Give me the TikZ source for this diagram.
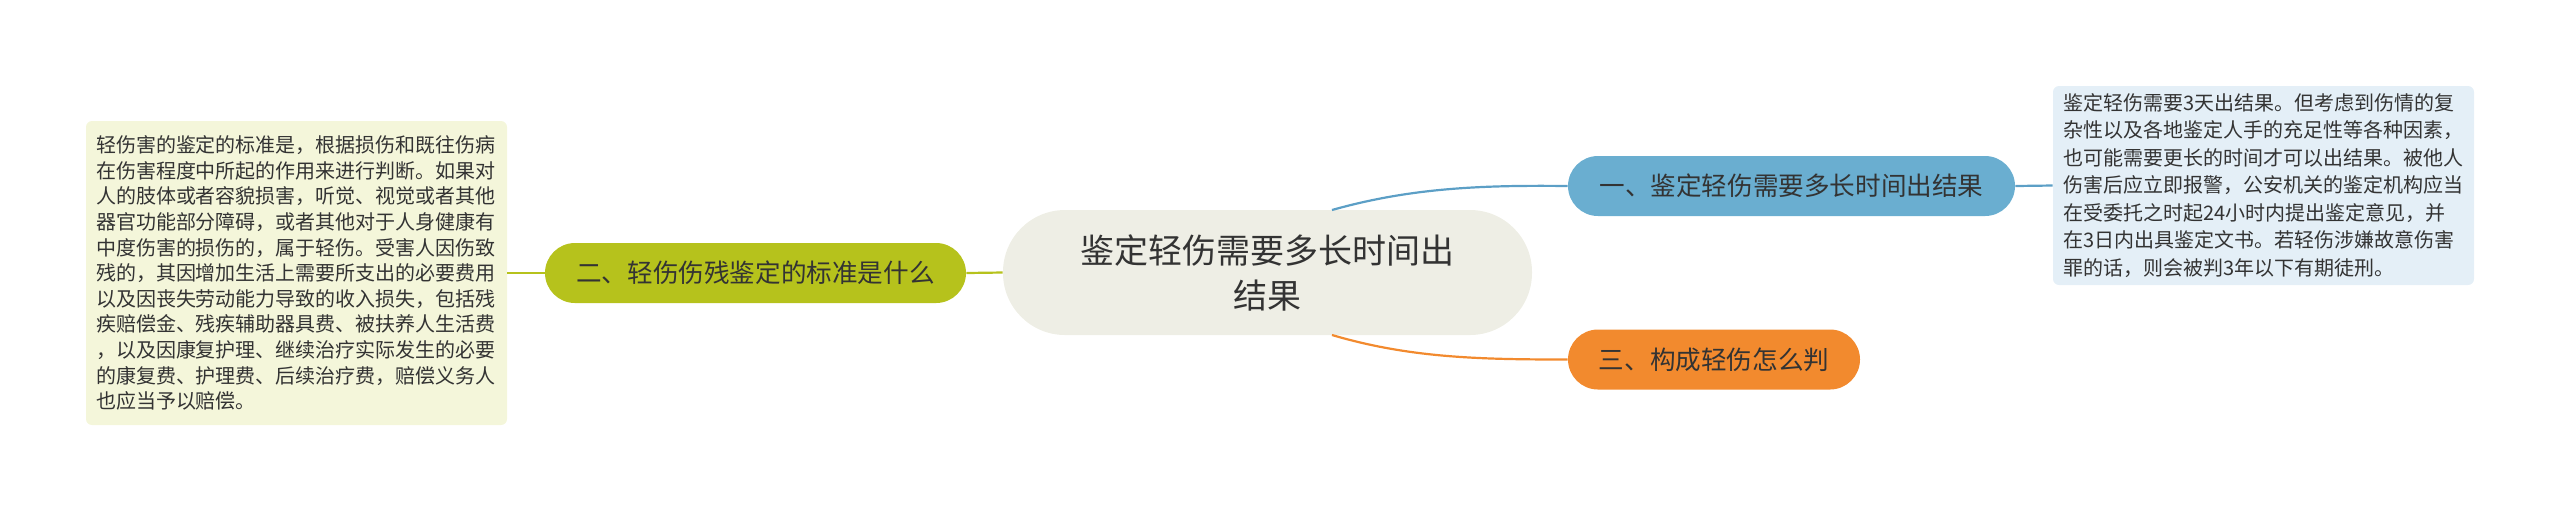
\documentclass[tikz,border=0pt]{standalone}
\usepackage{fontspec}
\setmainfont{Noto Sans CJK SC}
\usetikzlibrary{calc}
\definecolor{txt}{HTML}{333333}
\definecolor{cfill}{HTML}{EEEEE5}
\definecolor{bluen}{HTML}{6AAED0}
\definecolor{bluel}{HTML}{5C9FC6}
\definecolor{olive}{HTML}{B6C21C}
\definecolor{orangen}{HTML}{F28A2E}
\definecolor{lbox}{HTML}{F4F6DA}
\definecolor{rbox}{HTML}{E4EFF7}
\tikzset{
  central/.style={fill=cfill, rounded corners=31pt, minimum width=264.5pt, minimum height=62.5pt, inner sep=0pt, align=center, text=txt, font=\fontsize{17pt}{22.5pt}\selectfont},
  branch/.style={rounded corners=15pt, minimum height=30pt, inner sep=0pt, text=txt, font=\fontsize{12.8pt}{15pt}\selectfont},
  textbox/.style={rounded corners=3pt, inner xsep=5pt, align=left, text=txt},
  conn/.style={line width=1.1pt}
}
\begin{document}
\begin{tikzpicture}[x=0.5pt,y=-0.5pt]
\useasboundingbox (0,0) rectangle (2560,511);
\node[central] (c) at (1267.5,272.5) {鉴定轻伤需要多长时间出\\结果};
\node[branch, fill=bluen, minimum width=223.5pt] (n1) at (1791.5,186) {一、鉴定轻伤需要多长时间出结果};
\node[branch, fill=olive, minimum width=210.5pt] (n2) at (755.5,273) {二、轻伤伤残鉴定的标准是什么};
\node[branch, fill=orangen, minimum width=146pt] (n3) at (1714,359.5) {三、构成轻伤怎么判};
\node[textbox, fill=lbox, text width=200.5pt, minimum height=152pt, font=\fontsize{10pt}{12.8pt}\selectfont] (l) at (296.5,273) {轻伤害的鉴定的标准是，根据损伤和既往伤病\\在伤害程度中所起的作用来进行判断。如果对\\人的肢体或者容貌损害，听觉、视觉或者其他\\器官功能部分障碍，或者其他对于人身健康有\\中度伤害的损伤的，属于轻伤。受害人因伤致\\残的，其因增加生活上需要所支出的必要费用\\以及因丧失劳动能力导致的收入损失，包括残\\疾赔偿金、残疾辅助器具费、被扶养人生活费\\，以及因康复护理、继续治疗实际发生的必要\\的康复费、护理费、后续治疗费，赔偿义务人\\也应当予以赔偿。};
\node[textbox, fill=rbox, text width=200.5pt, minimum height=99.5pt, font=\fontsize{10pt}{13.75pt}\selectfont] (r) at (2263.5,185.5) {鉴定轻伤需要3天出结果。但考虑到伤情的复\\杂性以及各地鉴定人手的充足性等各种因素，\\也可能需要更长的时间才可以出结果。被他人\\伤害后应立即报警，公安机关的鉴定机构应当\\在受委托之时起24小时内提出鉴定意见，并\\在3日内出具鉴定文书。若轻伤涉嫌故意伤害\\罪的话，则会被判3年以下有期徒刑。};
\coordinate (s1) at (1332,210);
\coordinate (s3) at (1332,335);
\draw[conn, bluel] (s1) .. controls (1410,188) and (1480,185) .. (n1.west);
\draw[conn, orangen] (s3) .. controls (1410,358) and (1480,359.5) .. (n3.west);
\draw[conn, olive] (c.west) -- (n2.east);
\draw[conn, olive] (n2.west) -- (l.east);
\draw[conn, bluel] (n1.east) -- (r.west);
\end{tikzpicture}
\end{document}
